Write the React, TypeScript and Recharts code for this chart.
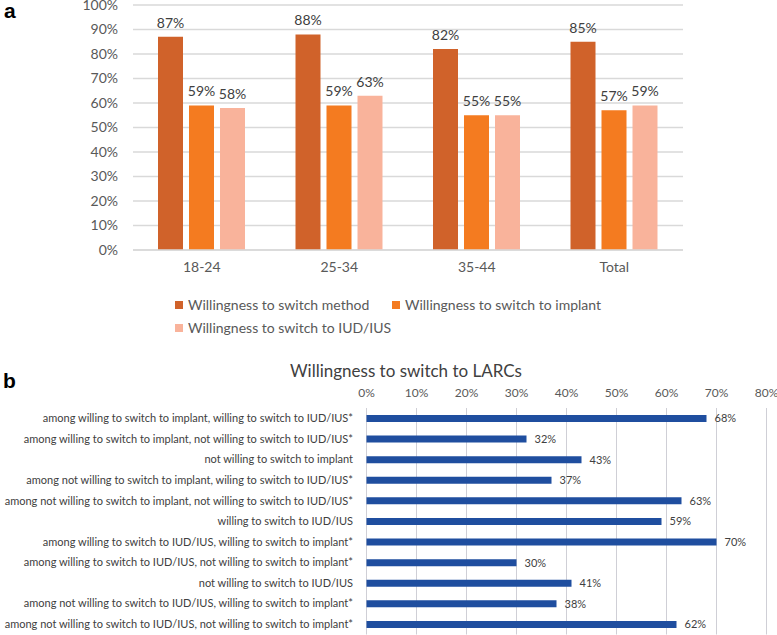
import React from 'react';
import { BarChart, Bar, XAxis, YAxis, CartesianGrid, Legend, LabelList } from 'recharts';

const ageGroups = ['18-24', '25-34', '35-44', 'Total'];
const switchMethod = [87, 88, 82, 85];
const switchImplant = [59, 59, 55, 57];
const switchIUD = [58, 63, 55, 59];
const percentTicksA = [0, 10, 20, 30, 40, 50, 60, 70, 80, 90, 100];

const larcCategories = [
  'among willing to switch to implant, willing to switch to IUD/IUS*',
  'among willing to switch to implant, not willing to switch to IUD/IUS*',
  'not willing to switch to implant',
  'among not willing to switch to implant, wiling to switch to IUD/IUS*',
  'among not willing to switch to implant, not willing to switch to IUD/IUS*',
  'willing to switch to IUD/IUS',
  'among willing to switch to IUD/IUS, willing to switch to implant*',
  'among willing to switch to IUD/IUS, not willing to switch to implant*',
  'not willing to switch to IUD/IUS',
  'among not willing to switch to IUD/IUS, willing to switch to implant*',
  'among not willing to switch to IUD/IUS, not willing to switch to implant*',
];
const larcValues = [68, 32, 43, 37, 63, 59, 70, 30, 41, 38, 62];
const percentTicksB = [0, 10, 20, 30, 40, 50, 60, 70, 80];

const seriesNames = [
  'Willingness to switch method',
  'Willingness to switch to implant',
  'Willingness to switch to IUD/IUS',
];
const seriesColors = ['#D0622A', '#F47B20', '#F9B39B'];

const dataA = ageGroups.map((g, i) => ({
  group: g,
  method: switchMethod[i],
  implant: switchImplant[i],
  iud: switchIUD[i],
}));
const dataB = larcCategories.map((c, i) => ({ cat: c, value: larcValues[i] }));

const FONT = 'Lato, "Liberation Sans", sans-serif';
const pct = (v: any) => `${v}%`;

const legendPos = [
  { left: 175, top: 7 },
  { left: 392, top: 7 },
  { left: 175, top: 30 },
];

const LegendA = () => (
  <div style={{ position: 'relative', width: 777, height: 50, fontFamily: FONT }}>
    {seriesNames.map((n, i) => (
      <div
        key={n}
        style={{
          position: 'absolute',
          left: legendPos[i].left,
          top: legendPos[i].top,
          height: 16,
          display: 'flex',
          alignItems: 'center',
          whiteSpace: 'nowrap',
        }}
      >
        <span style={{ width: 8, height: 8, background: seriesColors[i], marginRight: 5, display: 'inline-block' }} />
        <span style={{ fontSize: 14, color: '#595959', lineHeight: '16px' }}>{n}</span>
      </div>
    ))}
  </div>
);

const CatTick = (props: any) => {
  const { x, y, payload } = props;
  return (
    <text x={x} y={y} dy="0.35em" textAnchor="end" fontFamily={FONT} fontSize={11} fill="#404040">
      {payload.value}
    </text>
  );
};

export default function App() {
  return (
    <div style={{ position: 'absolute', left: 0, top: 0, width: 777, height: 635, background: '#fff', overflow: 'hidden' }}>
      <div style={{ position: 'absolute', left: 0, top: 0 }}>
        <BarChart
          width={777}
          height={345}
          data={dataA}
          margin={{ top: 5, right: 94, left: 0, bottom: 5 }}
          barSize={25}
          barGap={6}
        >
          <CartesianGrid vertical={false} stroke="#D9D9D9" strokeWidth={1.3} />
          <XAxis
            dataKey="group"
            height={40}
            axisLine={{ stroke: '#D9D9D9', strokeWidth: 1.3 }}
            tickLine={false}
            tickMargin={6}
            tick={{ fontFamily: FONT, fontSize: 14, fill: '#595959' }}
          />
          <YAxis
            width={133}
            domain={[0, 100]}
            ticks={percentTicksA}
            interval={0}
            tickFormatter={pct}
            axisLine={false}
            tickLine={false}
            tickMargin={9}
            tick={{ fontFamily: FONT, fontSize: 14, fill: '#595959' }}
          />
          <Legend
            verticalAlign="bottom"
            content={() => <LegendA />}
            wrapperStyle={{ left: 0, width: 777, height: 50 }}
          />
          <Bar dataKey="method" name={seriesNames[0]} fill={seriesColors[0]} isAnimationActive={false}>
            <LabelList dataKey="method" position="top" offset={9} formatter={pct} style={{ fontFamily: FONT, fontSize: 14, fill: '#404040' }} />
          </Bar>
          <Bar dataKey="implant" name={seriesNames[1]} fill={seriesColors[1]} isAnimationActive={false}>
            <LabelList dataKey="implant" position="top" offset={9} formatter={pct} style={{ fontFamily: FONT, fontSize: 14, fill: '#404040' }} />
          </Bar>
          <Bar dataKey="iud" name={seriesNames[2]} fill={seriesColors[2]} isAnimationActive={false}>
            <LabelList dataKey="iud" position="top" offset={9} formatter={pct} style={{ fontFamily: FONT, fontSize: 14, fill: '#404040' }} />
          </Bar>
        </BarChart>
      </div>

      <div
        style={{
          position: 'absolute',
          left: 206,
          top: 361,
          width: 400,
          height: 20,
          lineHeight: '20px',
          textAlign: 'center',
          fontFamily: FONT,
          fontSize: 17,
          color: '#404040',
          whiteSpace: 'nowrap',
        }}
      >
        Willingness to switch to LARCs
      </div>

      <div style={{ position: 'absolute', left: 0, top: 345 }}>
        <BarChart
          width={777}
          height={290}
          data={dataB}
          layout="vertical"
          margin={{ top: 43, right: 10.5, left: 0, bottom: 0.5 }}
          barSize={7}
        >
          <CartesianGrid horizontal={false} stroke="#CFCFD6" strokeWidth={1} />
          <XAxis
            type="number"
            orientation="top"
            height={20}
            domain={[0, 80]}
            ticks={percentTicksB}
            interval={0}
            tickFormatter={pct}
            axisLine={false}
            tickLine={false}
            tickMargin={5}
            tick={{ fontFamily: FONT, fontSize: 12, fill: '#595959' }}
          />
          <YAxis
            type="category"
            dataKey="cat"
            width={366.5}
            interval={0}
            axisLine={false}
            tickLine={false}
            tickMargin={7.5}
            tick={<CatTick />}
          />
          <Bar dataKey="value" fill="#1F4E9F" isAnimationActive={false}>
            <LabelList dataKey="value" position="right" offset={8} formatter={pct} style={{ fontFamily: FONT, fontSize: 11, fill: '#404040' }} />
          </Bar>
        </BarChart>
      </div>

      <svg width={777} height={635} style={{ position: 'absolute', left: 0, top: 0, pointerEvents: 'none' }}>
        <text x={4} y={18} fontFamily='"Liberation Sans", Arial, sans-serif' fontWeight="bold" fontSize={21} fill="#000">a</text>
        <text x={3} y={388} fontFamily='"Liberation Sans", Arial, sans-serif' fontWeight="bold" fontSize={21} fill="#000">b</text>
      </svg>
    </div>
  );
}
